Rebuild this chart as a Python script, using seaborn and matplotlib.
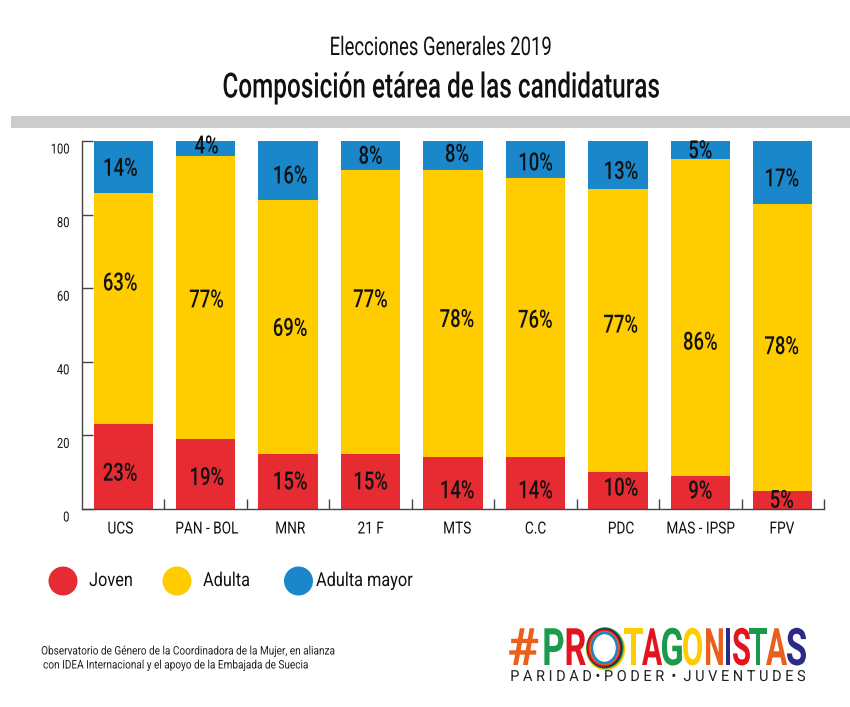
import numpy as np
import pandas as pd
import matplotlib
matplotlib.use('Agg')
import matplotlib.pyplot as plt
import seaborn as sns
from matplotlib.patches import Ellipse, Rectangle
from matplotlib.patheffects import AbstractPathEffect
from matplotlib.ticker import FixedLocator
from matplotlib.transforms import Affine2D, ScaledTranslation

partidos = ['UCS', 'PAN - BOL', 'MNR', '21 F', 'MTS', 'C.C', 'PDC', 'MAS - IPSP', 'FPV']
joven = [23, 19, 15, 15, 14, 14, 10, 9, 5]
adulta = [63, 77, 69, 77, 78, 76, 77, 86, 78]
adulta_mayor = [14, 4, 16, 8, 8, 10, 13, 5, 17]
y_ticks = [0, 20, 40, 60, 80, 100]

series_names = ['Joven', 'Adulta', 'Adulta mayor']
series_colors = ['#E62B33', '#FFCC00', '#1A87CB']

# hand placed labels in the original, px away from segment centre (x, y down)
joven_dy = [5, 2, -1, -1, 6, 6, -4, -3, -1]
adulta_dy = [-27, 1, 0, -14, 4, 1, -7, 23, -2]
mayor_dy = [0, -4, 4, -1, -3, 2, 5, -1, 5]
label_dx = [-3, 1, 2, 0, 4, 0, 3, 0, -1]

logo_letters = list('#PR') + list('TAGONISTAS')
logo_left = [509, 544, 566, 624, 642, 662, 683, 706, 726, 733, 749, 766, 787]
logo_right = [538, 563, 585, 643, 662, 682, 702, 723, 730, 750, 767, 787, 806]
logo_colors = ['#E8601C', '#1A9A4A', '#E3141F', '#FFCC00', '#E3141F', '#1A9A4A', '#FFCC00',
               '#E8601C', '#2B2A86', '#E3141F', '#1A9A4A', '#E8601C', '#2B2A86']


class Squeeze(AbstractPathEffect):
    # the reference uses a condensed face, none installed so narrow the glyphs
    def __init__(self, sx=0.75, anchor='center', sy=1, width=None):
        super().__init__()
        self.sx = sx
        self.sy = sy
        self.anchor = anchor
        self.width = width

    def draw_path(self, renderer, gc, tpath, affine, rgbFace=None):
        ext = tpath.get_extents()
        c = {'left': ext.x0, 'center': (ext.x0 + ext.x1) / 2, 'right': ext.x1}[self.anchor]
        sx = self.sx
        if self.width is not None:
            sx = self.width / (ext.width * affine.get_matrix()[0, 0])
        t = Affine2D().translate(-c, 0).scale(sx, self.sy).translate(c, 0)
        renderer.draw_path(gc, tpath, t + affine, rgbFace)


sns.set_theme(style='white')
plt.rcParams['font.family'] = ['Roboto', 'DejaVu Sans']

W, H = 850, 707
fig = plt.figure(figsize=(W / 100, H / 100), dpi=100, facecolor='white')
ax = fig.add_axes([82 / W, 1 - 509 / H, 742 / W, 368 / H])

bottom = np.zeros(len(partidos))
for vals, col in zip([joven, adulta, adulta_mayor], series_colors):
    df = pd.DataFrame({'partido': partidos, 'valor': vals})
    sns.barplot(data=df, x='partido', y='valor', color=col, saturation=1,
                width=0.72, bottom=bottom, ax=ax, zorder=2, linewidth=0, edgecolor='none')
    bottom = bottom + np.array(vals)

ax.set_xlim(-0.5, len(partidos) - 0.5)
ax.set_ylim(0, 100)
ax.set_xlabel('')
ax.set_ylabel('')
sns.despine(ax=ax)
for s in ['left', 'bottom']:
    ax.spines[s].set_color('#444444')
    ax.spines[s].set_linewidth(1)

ax.set_yticks(y_ticks)
ax.tick_params(axis='y', direction='in', length=8, width=1, color='#444444', pad=9,
               labelsize=10, labelcolor='#111111', left=True)
ax.xaxis.set_minor_locator(FixedLocator(np.arange(0.5, len(partidos), 1)))
ax.tick_params(axis='x', which='minor', direction='in', length=7, width=1, color='#444444', bottom=True)
ax.tick_params(axis='x', which='major', length=0, pad=9, labelsize=12, labelcolor='#111111')

offset = ScaledTranslation(0, -7 / 100, fig.dpi_scale_trans)
for lab in ax.get_yticklabels():
    lab.set_transform(lab.get_transform() + offset)
    lab.set_path_effects([Squeeze(0.8, 'right')])
for lab, dx in zip(ax.get_xticklabels(), label_dx):
    lab.set_transform(lab.get_transform() + ScaledTranslation(dx / 100, 0, fig.dpi_scale_trans))
    lab.set_path_effects([Squeeze(0.82)])

# value labels
base = np.zeros(len(partidos))
for vals, dys in zip([joven, adulta, adulta_mayor], [joven_dy, adulta_dy, mayor_dy]):
    for i, (v, dy) in enumerate(zip(vals, dys)):
        ax.annotate(f'{v}%', (i, base[i] + v / 2), xytext=(label_dx[i] * 0.72, -(dy + 2) * 0.72),
                    textcoords='offset points', ha='center', va='center', fontsize=18,
                    fontweight='medium', color='#111111', zorder=5, path_effects=[Squeeze(0.74)])
    base = base + np.array(vals)

# everything outside the chart goes on a pixel sized overlay
over = fig.add_axes([0, 0, 1, 1], zorder=-1)
over.set_xlim(0, W)
over.set_ylim(H, 0)
over.axis('off')
top = fig.add_axes([0, 0, 1, 1], zorder=3)
top.set_xlim(0, W)
top.set_ylim(H, 0)
top.axis('off')
top.patch.set_alpha(0)

over.add_patch(Rectangle((11, 116), W - 11, 12, color='#CCCCCC', lw=0))

top.text(441, 48, 'Elecciones Generales 2019', ha='center', va='center', fontsize=18.5,
         color='#111111', path_effects=[Squeeze(0.72)])
top.text(441, 88, 'Composición etárea de las candidaturas', ha='center', va='center', fontsize=25,
         fontweight='medium', color='#111111', path_effects=[Squeeze(0.70)])

legend_cx = [63, 177, 298.5]
legend_tx = [89, 203, 316]
for name, col, cx, tx in zip(series_names, series_colors, legend_cx, legend_tx):
    top.add_patch(Ellipse((cx, 581), 29, 29, color=col, lw=0))
    top.text(tx, 581, name, ha='left', va='center', fontsize=13.8, color='#111111',
             path_effects=[Squeeze(0.85, 'left')])

top.text(41, 651, 'Observatorio de Género de la Coordinadora de la Mujer, en alianza', ha='left',
         va='center', fontsize=8.5, color='#222222', path_effects=[Squeeze(0.85, 'left')])
top.text(43, 665, 'con IDEA Internacional y el apoyo de la Embajada de Suecia', ha='left',
         va='center', fontsize=8.5, color='#222222', path_effects=[Squeeze(0.85, 'left')])

# logo, small type stretched up so the letters sit side by side
for ch, x0, x1, col in zip(logo_letters, logo_left, logo_right, logo_colors):
    top.text((x0 + x1) / 2, 665, ch, ha='center', va='baseline', fontsize=20, fontweight='bold',
             color=col, path_effects=[Squeeze(anchor='center', sy=1.86, width=x1 - x0)])
rings = [(605.5, 649, 37, 40, '#FFCC00'), (605, 648, 35, 39, '#1A9A4A'), (604.5, 648, 33, 37, '#1B1B5E'),
         (604, 648, 31, 35, '#E3141F'), (604.5, 648, 28, 32, '#E8601C'), (604.5, 648, 25, 30, '#1A87CB')]
for cx, cy, w, h, col in rings:
    top.add_patch(Ellipse((cx, cy), w, h, fill=False, ec=col, lw=1.8))
top.text(657, 677, 'P A R I D A D • P O D E R  •  J U V E N T U D E S', ha='center', va='center',
         fontsize=11, color='#222222', path_effects=[Squeeze(0.95)])

fig.savefig('out.png', dpi=100, facecolor='white')
